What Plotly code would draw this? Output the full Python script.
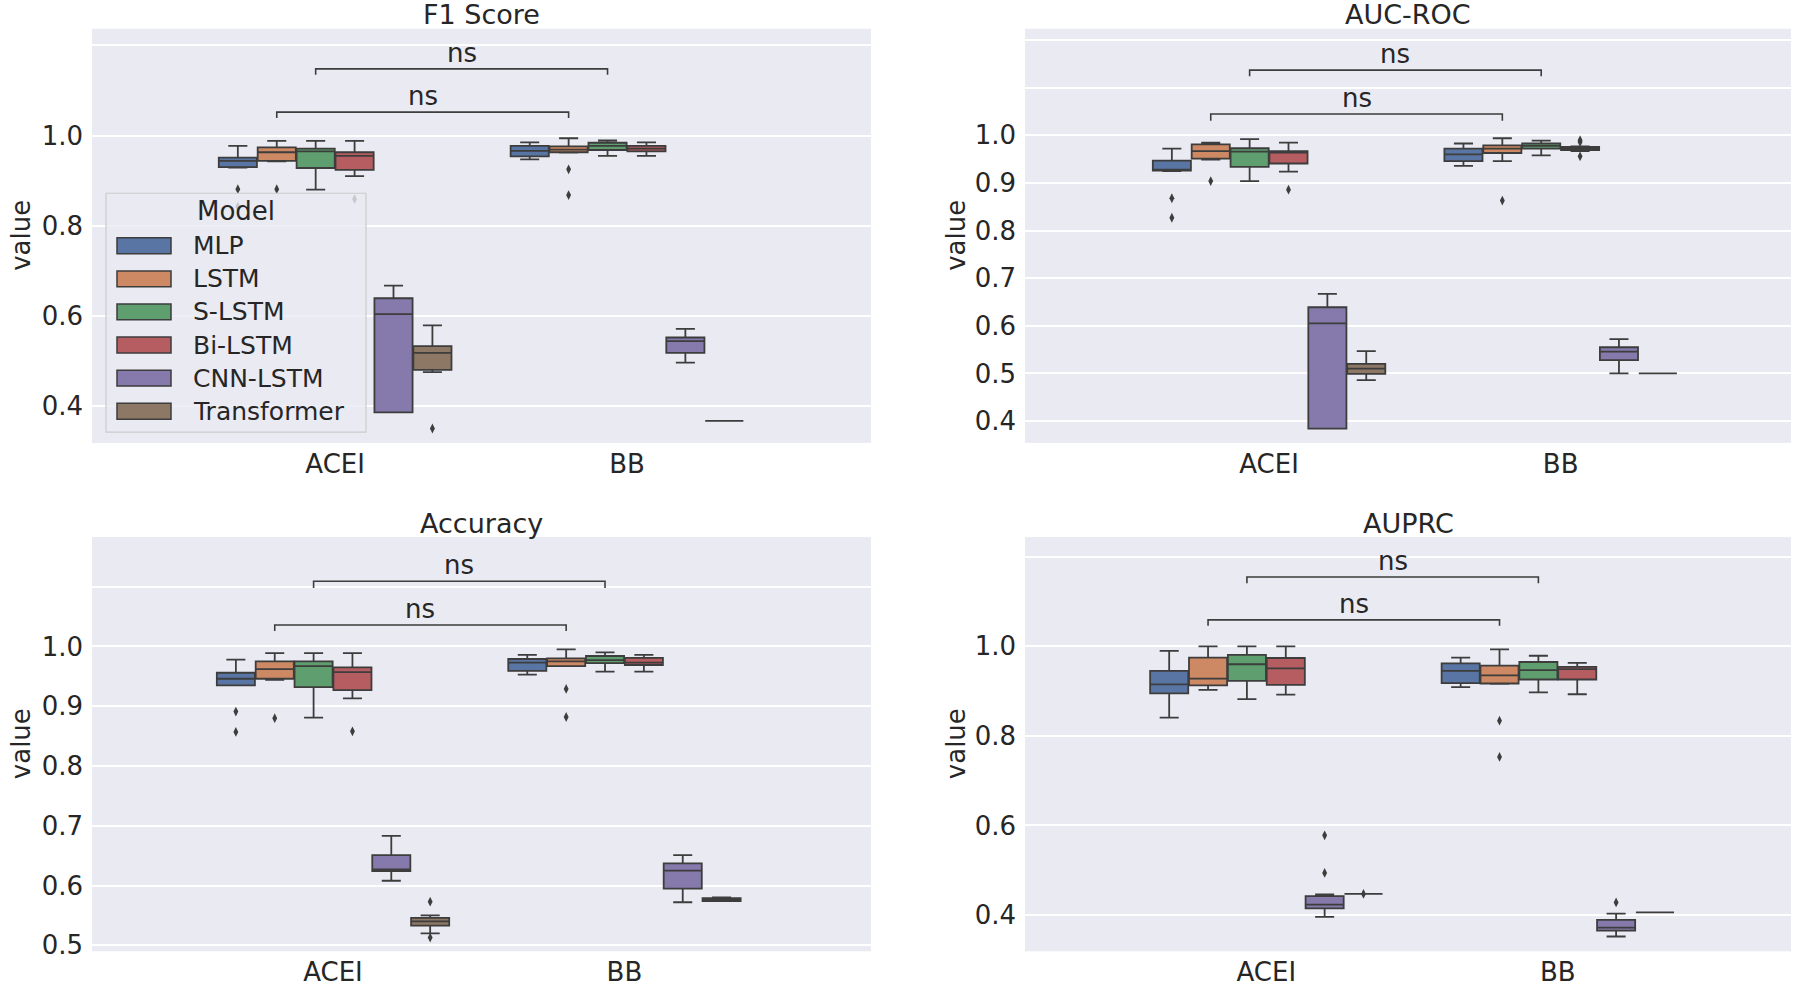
import plotly.graph_objects as go

# ---------------- data ----------------
models = ["MLP", "LSTM", "S-LSTM", "Bi-LSTM", "CNN-LSTM", "Transformer"]
groups = ["ACEI", "BB"]
colors = ["#5975a4", "#cc8963", "#5f9e6e", "#b55d60", "#857aab", "#8d7866"]

# per model: [lower whisker, q1, median, q3, upper whisker]
f1_acei = [[0.929, 0.930, 0.944, 0.951, 0.977], [0.943, 0.944, 0.963, 0.974, 0.988],
           [0.880, 0.928, 0.965, 0.971, 0.988], [0.910, 0.924, 0.955, 0.963, 0.988],
           [0.386, 0.386, 0.604, 0.639, 0.667], [0.475, 0.480, 0.518, 0.533, 0.579]]
f1_acei_out = [[0.881, 0.842], [0.881], [], [0.859], [], [0.350]]
f1_bb = [[0.947, 0.954, 0.966, 0.977, 0.985], [0.962, 0.963, 0.969, 0.976, 0.994],
         [0.955, 0.968, 0.977, 0.984, 0.989], [0.955, 0.965, 0.971, 0.977, 0.985],
         [0.496, 0.518, 0.544, 0.552, 0.571], [0.367, 0.367, 0.367, 0.367, 0.367]]
f1_bb_out = [[], [0.925, 0.868], [], [], [], []]

auc_acei = [[0.925, 0.926, 0.928, 0.947, 0.972], [0.949, 0.951, 0.967, 0.981, 0.985],
            [0.904, 0.934, 0.966, 0.973, 0.992], [0.924, 0.941, 0.964, 0.967, 0.985],
            [0.384, 0.384, 0.605, 0.639, 0.667], [0.486, 0.499, 0.510, 0.520, 0.547]]
auc_acei_out = [[0.868, 0.827], [0.904], [], [0.886], [], []]
auc_bb = [[0.936, 0.946, 0.960, 0.972, 0.983], [0.946, 0.963, 0.972, 0.979, 0.994],
          [0.958, 0.972, 0.978, 0.983, 0.989], [0.967, 0.969, 0.972, 0.976, 0.977],
          [0.500, 0.528, 0.546, 0.555, 0.572], [0.500, 0.500, 0.500, 0.500, 0.500]]
auc_bb_out = [[], [0.863], [], [0.990, 0.986, 0.956], [], []]

acc_acei = [[0.935, 0.935, 0.946, 0.956, 0.978], [0.944, 0.946, 0.962, 0.975, 0.989],
            [0.881, 0.932, 0.967, 0.975, 0.989], [0.913, 0.927, 0.957, 0.965, 0.989],
            [0.608, 0.624, 0.627, 0.651, 0.683], [0.520, 0.533, 0.540, 0.546, 0.550]]
acc_acei_out = [[0.891, 0.857], [0.880], [], [0.858], [], [0.573, 0.513]]
acc_bb = [[0.953, 0.959, 0.973, 0.979, 0.986], [0.967, 0.967, 0.975, 0.980, 0.995],
          [0.958, 0.972, 0.977, 0.984, 0.990], [0.958, 0.969, 0.973, 0.981, 0.986],
          [0.572, 0.595, 0.625, 0.637, 0.651], [0.574, 0.574, 0.577, 0.579, 0.580]]
acc_bb_out = [[], [0.929, 0.882], [], [], [], []]

auprc_acei = [[0.841, 0.895, 0.915, 0.945, 0.990], [0.903, 0.913, 0.928, 0.975, 1.000],
              [0.882, 0.923, 0.960, 0.981, 1.000], [0.892, 0.914, 0.951, 0.974, 1.000],
              [0.396, 0.415, 0.423, 0.442, 0.446], [0.447, 0.447, 0.447, 0.447, 0.447]]
auprc_acei_out = [[], [], [], [], [0.578, 0.494], [0.447]]
auprc_bb = [[0.909, 0.918, 0.945, 0.962, 0.975], [0.916, 0.917, 0.935, 0.957, 0.993],
            [0.897, 0.926, 0.947, 0.965, 0.979], [0.893, 0.926, 0.949, 0.954, 0.963],
            [0.352, 0.365, 0.372, 0.389, 0.403], [0.406, 0.406, 0.406, 0.406, 0.406]]
auprc_bb_out = [[], [0.834, 0.753], [], [], [0.428], []]

f1_ticks = [0.4, 0.6, 0.8, 1.0, 1.2]
auc_ticks = [0.4, 0.5, 0.6, 0.7, 0.8, 0.9, 1.0, 1.1, 1.2]
acc_ticks = [0.5, 0.6, 0.7, 0.8, 0.9, 1.0, 1.1]
auprc_ticks = [0.4, 0.6, 0.8, 1.0, 1.2]

# ---------------- layout helpers ----------------
W, H = 1800, 991
GRAY = "#3d3d3d"
TXT = "#262626"
FONT = "DejaVu Sans"


def px(x):
    return x / W


def py(y):
    return 1 - y / H


panels = [
    dict(title="F1 Score", data=[(f1_acei, f1_acei_out), (f1_bb, f1_bb_out)], ticks=f1_ticks,
         xpx=(92, 871), ypx=(29, 447), xr=(-0.833, 1.836), yr=(0.318, 1.237),
         br=[(1.039, 1.052), (1.135, 1.148)]),
    dict(title="AUC-ROC", data=[(auc_acei, auc_acei_out), (auc_bb, auc_bb_out)], ticks=auc_ticks,
         xpx=(1025, 1791), ypx=(29, 447), xr=(-0.837, 1.79), yr=(0.354, 1.224),
         br=[(1.031, 1.045), (1.124, 1.137)]),
    dict(title="Accuracy", data=[(acc_acei, acc_acei_out), (acc_bb, acc_bb_out)], ticks=acc_ticks,
         xpx=(92, 871), ypx=(542, 960), xr=(-0.827, 1.846), yr=(0.490, 1.183),
         br=[(1.026, 1.036), (1.098, 1.109)]),
    dict(title="AUPRC", data=[(auprc_acei, auprc_acei_out), (auprc_bb, auprc_bb_out)], ticks=auprc_ticks,
         xpx=(1025, 1791), ypx=(542, 960), xr=(-0.828, 1.80), yr=(0.319, 1.244),
         br=[(1.046, 1.059), (1.141, 1.155)]),
]

n_models = len(models)
step = 0.8 / n_models

fig = go.Figure()
shapes = []
annotations = []
layout_axes = {}

for k, p in enumerate(panels):
    sfx = "" if k == 0 else str(k + 1)
    xa, ya = "x" + sfx, "y" + sfx
    for gi, (stats, outs) in enumerate(p["data"]):
        for mi, s in enumerate(stats):
            pos = gi + (mi - (n_models - 1) / 2) * step
            fig.add_trace(go.Box(
                x=[pos], lowerfence=[s[0]], q1=[s[1]], median=[s[2]], q3=[s[3]], upperfence=[s[4]],
                width=step * 0.98, fillcolor=colors[mi], line=dict(color=GRAY, width=1.8),
                whiskerwidth=0.5, boxpoints=False, showlegend=False, hoverinfo="skip",
                xaxis=xa, yaxis=ya))
            if outs[mi]:
                fig.add_trace(go.Scatter(
                    x=[pos] * len(outs[mi]), y=outs[mi], mode="markers",
                    marker=dict(symbol="diamond-tall", size=7, color=GRAY),
                    showlegend=False, hoverinfo="skip", xaxis=xa, yaxis=ya))

    x0, x1 = p["xpx"]
    y0, y1 = p["ypx"]
    ticktext = ["%.1f" % v if v <= 1.0 + 1e-9 else "" for v in p["ticks"]]
    layout_axes["xaxis" + sfx] = dict(
        domain=[px(x0), px(x1)], range=list(p["xr"]), anchor=ya, tickvals=[0, 1], ticktext=groups,
        showgrid=False, zeroline=False, showline=False, ticks="", ticklabelstandoff=3,
        tickfont=dict(family=FONT, size=26, color=TXT), fixedrange=True)
    layout_axes["yaxis" + sfx] = dict(
        domain=[py(y1), py(y0)], range=list(p["yr"]), anchor=xa, tickvals=p["ticks"], ticktext=ticktext,
        showgrid=True, gridcolor="white", gridwidth=1.6, zeroline=False, showline=False, ticks="",
        ticklabelstandoff=8, tickfont=dict(family=FONT, size=26, color=TXT), fixedrange=True)

    # significance brackets: LSTM pair (lower) and S-LSTM pair (upper)
    for (ytick, yline), mi in zip(p["br"], [1, 2]):
        off = (mi - (n_models - 1) / 2) * step
        xa_pos, xb_pos = 0 + off, 1 + off
        shapes.append(dict(type="path", xref=xa, yref=ya,
                           path=f"M{xa_pos},{ytick} L{xa_pos},{yline} L{xb_pos},{yline} L{xb_pos},{ytick}",
                           line=dict(color=GRAY, width=1.6), layer="above"))
        annotations.append(dict(x=(xa_pos + xb_pos) / 2, y=yline, xref=xa, yref=ya, text="ns",
                                showarrow=False, xanchor="center", yanchor="middle", yshift=16,
                                font=dict(family=FONT, size=26, color=TXT)))

    # title and y-axis title
    annotations.append(dict(x=px((x0 + x1) / 2), y=py(y0 - 14), xref="paper", yref="paper",
                            text=p["title"], showarrow=False, xanchor="center", yanchor="middle",
                            font=dict(family=FONT, size=27, color=TXT)))
    vx = 21 if x0 < 500 else 956
    annotations.append(dict(x=px(vx), y=py((y0 + y1) / 2), xref="paper", yref="paper",
                            text="value", showarrow=False, textangle=-90,
                            xanchor="center", yanchor="middle",
                            font=dict(family=FONT, size=26, color=TXT)))

# ---------------- custom legend (in F1 panel) ----------------
lg_l, lg_r, lg_t, lg_b = 106, 366, 195, 436
shapes.append(dict(type="rect", xref="paper", yref="paper", x0=px(lg_l), x1=px(lg_r),
                   y0=py(lg_b), y1=py(lg_t), fillcolor="rgba(234,234,242,0.8)",
                   line=dict(color="#cccccc", width=1.2), layer="above"))
annotations.append(dict(x=px(236), y=py(213), xref="paper", yref="paper", text="Model",
                        showarrow=False, xanchor="center", yanchor="middle",
                        font=dict(family=FONT, size=26, color=TXT)))
for mi, m in enumerate(models):
    cy = 248 + mi * 33.4
    shapes.append(dict(type="rect", xref="paper", yref="paper", x0=px(117), x1=px(171),
                       y0=py(cy + 8), y1=py(cy - 8), fillcolor=colors[mi],
                       line=dict(color=GRAY, width=1.5), layer="above"))
    annotations.append(dict(x=px(191), y=py(cy), xref="paper", yref="paper", text=m,
                            showarrow=False, xanchor="left", yanchor="middle",
                            font=dict(family=FONT, size=25, color=TXT)))

fig.update_layout(
    width=W, height=H, margin=dict(l=0, r=0, t=0, b=0), autosize=False,
    paper_bgcolor="white", plot_bgcolor="#EAEAF2", showlegend=False,
    font=dict(family=FONT, color=TXT), shapes=shapes, annotations=annotations,
    boxmode="overlay", **layout_axes)

fig.write_html("out.html")
